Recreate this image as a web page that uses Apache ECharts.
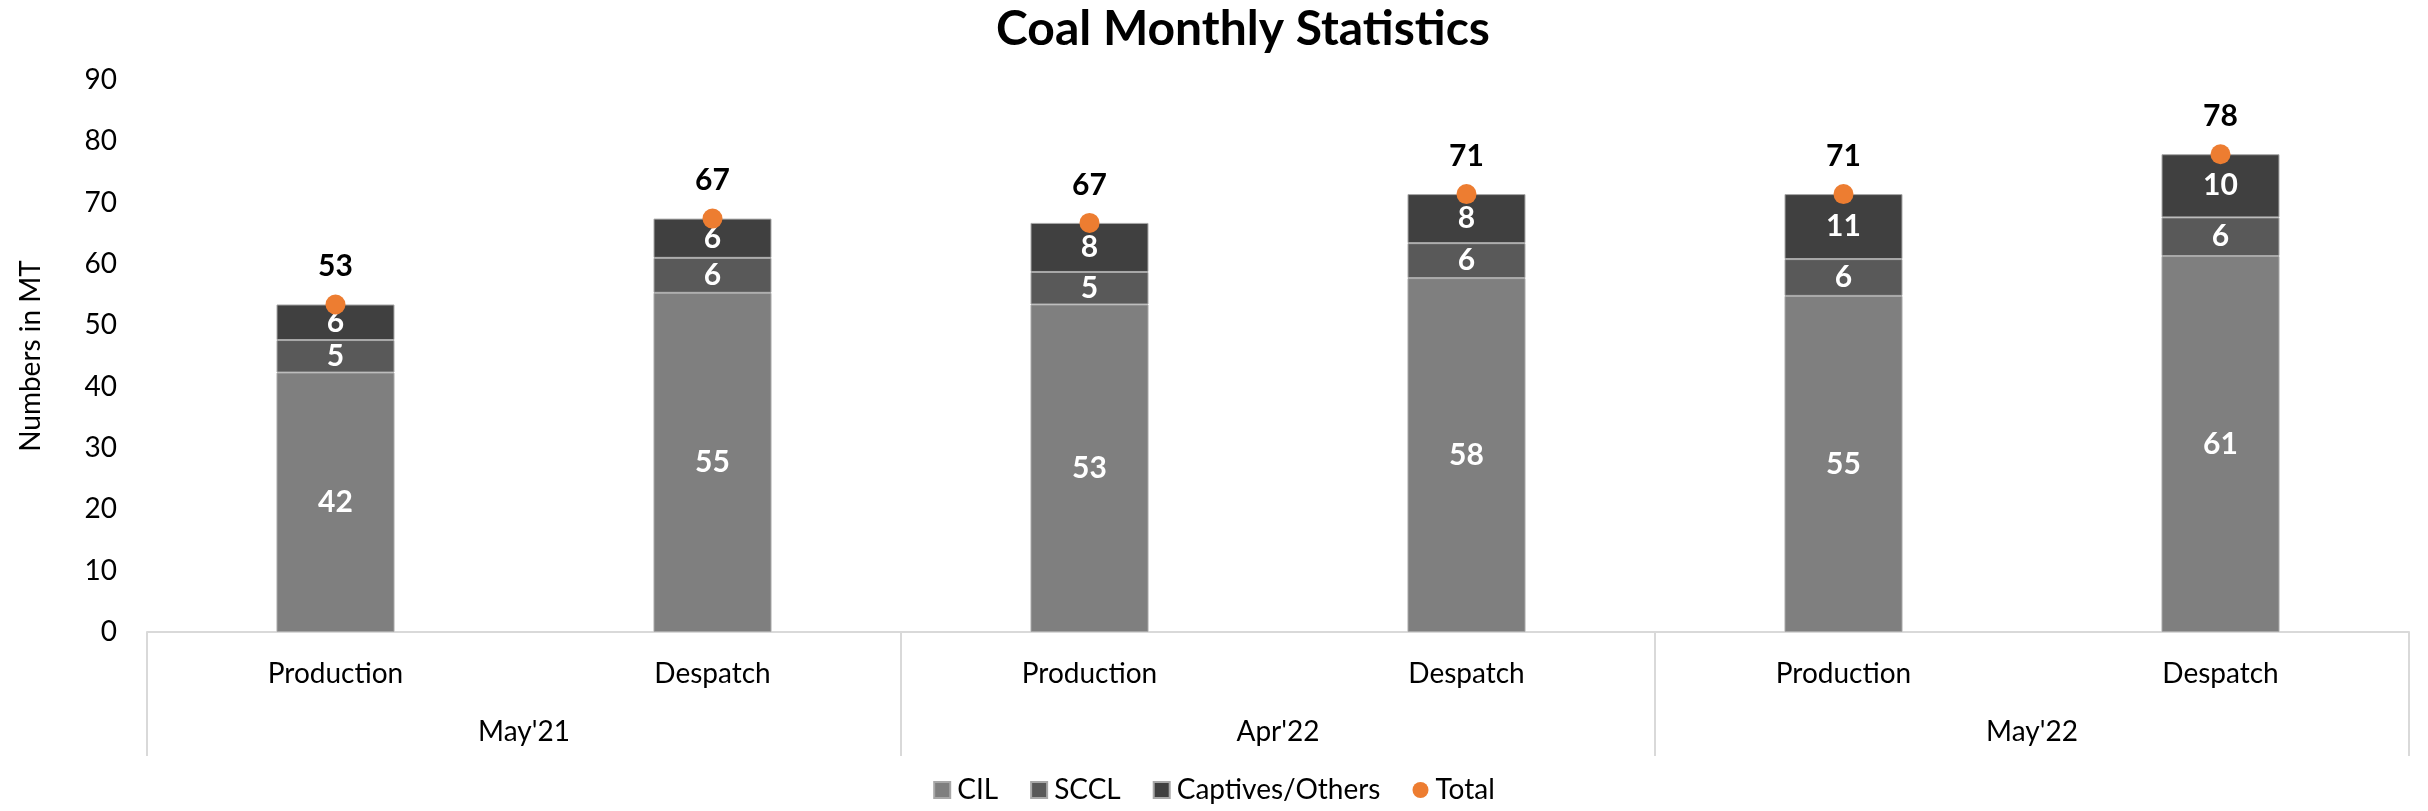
<!DOCTYPE html>
<html>
<head>
<meta charset="utf-8">
<script src="https://cdn.jsdelivr.net/npm/echarts@6/dist/echarts.min.js"></script>
<style>
html,body{margin:0;padding:0;background:#fff;}
#chart{width:2428px;height:811px;}
</style>
</head>
<body>
<div id="chart"></div>
<script>
const title = 'Coal Monthly Statistics';
const yAxisName = 'Numbers in MT';
const categories = ['Production', 'Despatch', 'Production', 'Despatch', 'Production', 'Despatch'];
const groups = ["May'21", "Apr'22", "May'22"];
const cil = [42.3, 55.3, 53.4, 57.7, 54.8, 61.3];
const sccl = [5.3, 5.7, 5.3, 5.7, 6.0, 6.3];
const captives = [5.8, 6.4, 8.0, 8.0, 10.6, 10.3];
const total = [53.4, 67.4, 66.7, 71.4, 71.4, 77.9];
const seriesNames = ['CIL', 'SCCL', 'Captives/Others', 'Total'];
const colors = ['#7F7F7F', '#595959', '#404040', '#ED7D31'];

const FONT = 'Lato';
const chart = echarts.init(document.getElementById('chart'), null, {renderer: 'canvas'});

function barSeries(name, data, color) {
  return {
    name: name,
    type: 'bar',
    stack: 'coal',
    xAxisIndex: 0,
    barWidth: 118,
    data: data,
    itemStyle: {color: color, borderColor: '#a8a8a8', borderWidth: 1},
    label: {
      show: true,
      position: 'inside',
      color: '#ffffff',
      fontFamily: FONT,
      fontWeight: 'bold',
      fontSize: 30,
      formatter: p => Math.round(p.value)
    },
    emphasis: {disabled: true}
  };
}

chart.setOption({
  animation: false,
  backgroundColor: '#ffffff',
  title: {
    text: title,
    left: 1238,
    top: 1,
    textAlign: 'center',
    textStyle: {fontFamily: FONT, fontWeight: 'bold', fontSize: 48, color: '#000000'}
  },
  grid: {left: 147, right: 19, top: 80, bottom: 179, containLabel: false},
  legend: {
    bottom: 2,
    left: 'center',
    itemWidth: 16,
    itemHeight: 16,
    itemGap: 32,
    textStyle: {fontFamily: FONT, fontSize: 28, color: '#000000', padding: [0, 0, 0, 2]},
    data: [
      {name: seriesNames[0], icon: 'rect'},
      {name: seriesNames[1], icon: 'rect'},
      {name: seriesNames[2], icon: 'rect'},
      {name: seriesNames[3], icon: 'circle'}
    ]
  },
  xAxis: [
    {
      type: 'category',
      position: 'bottom',
      data: categories,
      axisLine: {show: true, lineStyle: {color: '#d9d9d9', width: 2}},
      axisTick: {show: false},
      axisLabel: {fontFamily: FONT, fontSize: 28, color: '#000000', margin: 26, lineHeight: 32}
    },
    {
      type: 'category',
      position: 'bottom',
      offset: 0,
      data: groups,
      axisLine: {show: false},
      axisTick: {show: true, length: 124, lineStyle: {color: '#d9d9d9', width: 2}},
      axisLabel: {fontFamily: FONT, fontSize: 28, color: '#000000', margin: 84, lineHeight: 32}
    }
  ],
  yAxis: {
    type: 'value',
    min: 0,
    max: 90,
    interval: 10,
    name: yAxisName,
    nameLocation: 'middle',
    nameGap: 102,
    nameRotate: 90,
    nameTextStyle: {fontFamily: FONT, fontSize: 28, color: '#000000'},
    axisLine: {show: false},
    axisTick: {show: false},
    splitLine: {show: false},
    axisLabel: {fontFamily: FONT, fontSize: 28, color: '#000000', margin: 30}
  },
  series: [
    barSeries(seriesNames[0], cil, colors[0]),
    barSeries(seriesNames[1], sccl, colors[1]),
    barSeries(seriesNames[2], captives, colors[2]),
    {
      name: seriesNames[3],
      type: 'line',
      xAxisIndex: 0,
      data: total,
      symbol: 'circle',
      symbolSize: 20,
      lineStyle: {width: 0, opacity: 0},
      itemStyle: {color: colors[3]},
      label: {
        show: true,
        position: 'top',
        distance: 13,
        color: '#000000',
        fontFamily: FONT,
        fontWeight: 'bold',
        fontSize: 30,
        formatter: p => Math.round(p.value)
      },
      emphasis: {disabled: true},
      z: 5
    }
  ]
});
</script>
</body>
</html>
